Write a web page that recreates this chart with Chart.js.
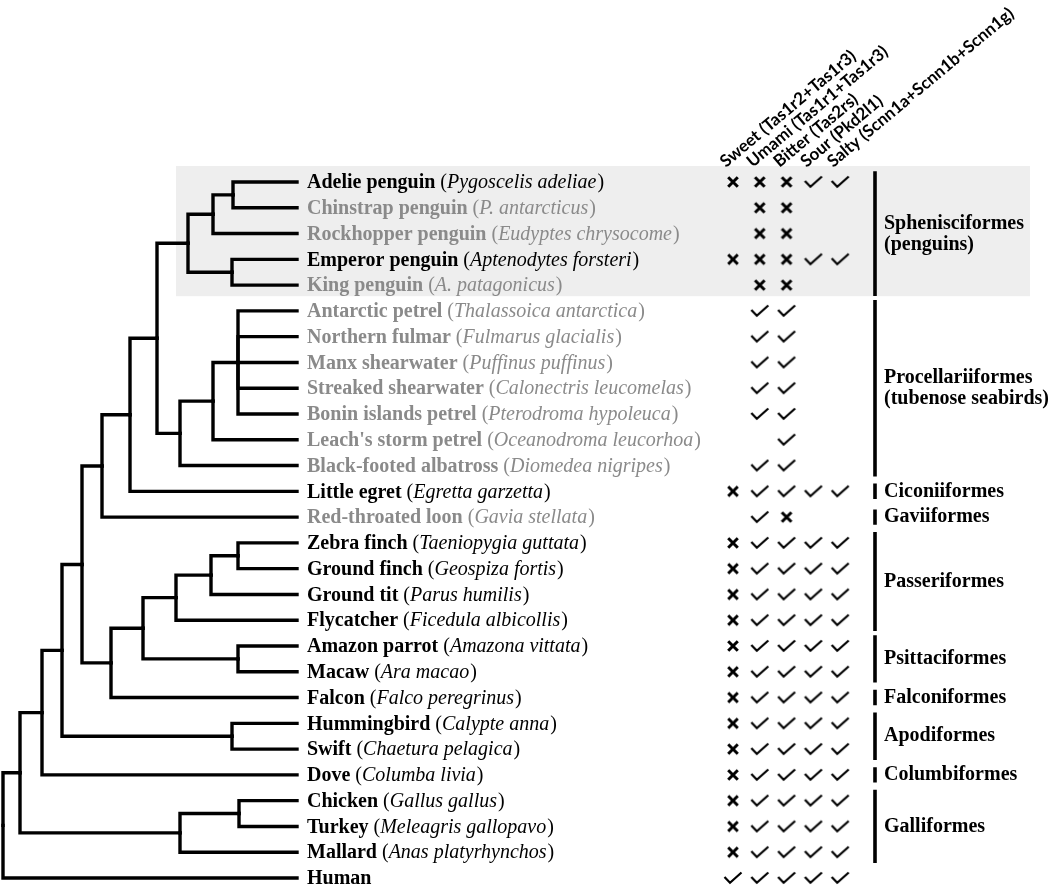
<!DOCTYPE html>
<html>
<head>
<meta charset="utf-8">
<script src="https://cdn.jsdelivr.net/npm/chart.js@4/dist/chart.umd.min.js"></script>
<style>
html,body{margin:0;padding:0;background:#fff;}
#wrap{width:1050px;height:885px;}
</style>
</head>
<body>
<div id="wrap"><canvas id="c" width="1050" height="885"></canvas></div>
<script>
// ---------- DATA ----------
const commonNames = ['Adelie penguin','Chinstrap penguin','Rockhopper penguin','Emperor penguin','King penguin',
  'Antarctic petrel','Northern fulmar','Manx shearwater','Streaked shearwater','Bonin islands petrel',
  "Leach's storm petrel",'Black-footed albatross','Little egret','Red-throated loon','Zebra finch',
  'Ground finch','Ground tit','Flycatcher','Amazon parrot','Macaw','Falcon','Hummingbird','Swift',
  'Dove','Chicken','Turkey','Mallard','Human'];
const sciNames = ['Pygoscelis adeliae','P. antarcticus','Eudyptes chrysocome','Aptenodytes forsteri','A. patagonicus',
  'Thalassoica antarctica','Fulmarus glacialis','Puffinus puffinus','Calonectris leucomelas','Pterodroma hypoleuca',
  'Oceanodroma leucorhoa','Diomedea nigripes','Egretta garzetta','Gavia stellata','Taeniopygia guttata',
  'Geospiza fortis','Parus humilis','Ficedula albicollis','Amazona vittata','Ara macao','Falco peregrinus',
  'Calypte anna','Chaetura pelagica','Columba livia','Gallus gallus','Meleagris gallopavo','Anas platyrhynchos',''];
// 1 = shown in black, 0 = shown in grey
const fullGenome = [1,0,0,1,0, 0,0,0,0,0,0,0, 1,0, 1,1,1,1, 1,1, 1, 1,1, 1, 1,1,1, 1];

const tasteLabels = ['Sweet (Tas1r2+Tas1r3)','Umami (Tas1r1+Tas1r3)','Bitter (Tas2rs)','Sour (Pkd2l1)','Salty (Scnn1a+Scnn1b+Scnn1g)'];
// 'v' = present (check), 'x' = lost (cross), '' = not determined
const sweet  = ['x','','','x','', '','','','','','','', 'x','', 'x','x','x','x','x','x','x','x','x','x','x','x','x','v'];
const umami  = ['x','x','x','x','x', 'v','v','v','v','v','','v', 'v','v', 'v','v','v','v','v','v','v','v','v','v','v','v','v','v'];
const bitter = ['x','x','x','x','x', 'v','v','v','v','v','v','v', 'v','x', 'v','v','v','v','v','v','v','v','v','v','v','v','v','v'];
const sour   = ['v','','','v','', '','','','','','','', 'v','', 'v','v','v','v','v','v','v','v','v','v','v','v','v','v'];
const salty  = ['v','','','v','', '','','','','','','', 'v','', 'v','v','v','v','v','v','v','v','v','v','v','v','v','v'];

// cladogram: internal nodes (ids start after the 28 tips), children and node depth
const nodeChildren = [[0,1],[28,2],[3,4],[29,30],[5,6,7,8,9],[32,10],[33,11],[31,34],[35,12],[36,13],
  [14,15],[38,16],[39,17],[18,19],[40,41],[42,20],[37,43],[21,22],[44,45],[46,23],[24,25],[48,26],[47,49],[50,27]];
const nodeDepth = [233,213,232,188,238,213,180,157,130,102,238,211,176,238,143,111,82,232,62,42,239,180,20,3];
const tipDepth = 297;

const groupNames = ['Sphenisciformes','Procellariiformes','Ciconiiformes','Gaviiformes','Passeriformes','Psittaciformes','Falconiformes','Apodiformes','Columbiformes','Galliformes'];
const groupSub   = ['(penguins)','(tubenose seabirds)','','','','','','','',''];
const groupFirst = [0,5,12,13,14,18,20,21,23,24];
const groupLast  = [4,11,12,13,17,19,20,22,23,26];

// ---------- LAYOUT ----------
const nTips = commonNames.length;
const rowTop = 182, rowBottom = 878;
const rowStep = (rowBottom - rowTop) / (nTips - 1);
const colX0 = 733, colStep = 26.8;
const barX = 875, labelX = 307, groupLabelX = 884;
const GREY = '#8a8a8a';
const serif = '"Liberation Serif","Times New Roman",serif';
const FS = 20;

// node y positions (row units)
const nodeY = [];
for (let i = 0; i < nTips; i++) nodeY[i] = i;
const depthOf = i => i < nTips ? tipDepth : nodeDepth[i - nTips];
nodeChildren.forEach((ch, k) => {
  nodeY[nTips + k] = (nodeY[ch[0]] + nodeY[ch[ch.length - 1]]) / 2;
});

const datasets = [];
nodeChildren.forEach((ch, k) => {
  const id = nTips + k, d = nodeDepth[k];
  ch.forEach(c => {
    datasets.push({
      type: 'scatter', xAxisID: 'x', yAxisID: 'y', showLine: true,
      data: [{x: d, y: nodeY[id]}, {x: d, y: nodeY[c]}, {x: depthOf(c), y: nodeY[c]}],
      borderColor: '#000', borderWidth: 3.4, pointRadius: 0, borderCapStyle: 'square', borderJoinStyle: 'miter', fill: false
    });
  });
});
groupNames.forEach((g, i) => {
  const ext = groupFirst[i] === groupLast[i] ? 0.3 : 0.42;
  datasets.push({
    type: 'scatter', xAxisID: 'x', yAxisID: 'y', showLine: true,
    data: [{x: barX, y: groupFirst[i] - ext}, {x: barX, y: groupLast[i] + ext}],
    borderColor: '#000', borderWidth: 3.6, pointRadius: 0, borderCapStyle: 'butt', fill: false
  });
});

// point-style glyphs
function makeCheck() {
  const c = document.createElement('canvas'); c.width = 20; c.height = 14;
  const g = c.getContext('2d');
  g.strokeStyle = '#000'; g.lineWidth = 2.2; g.lineCap = 'butt'; g.lineJoin = 'miter';
  g.beginPath(); g.moveTo(1.5, 6); g.lineTo(7, 11.8); g.lineTo(18.5, 1.5); g.stroke();
  return c;
}
function makeCross() {
  const c = document.createElement('canvas'); c.width = 14; c.height = 14;
  const g = c.getContext('2d');
  g.strokeStyle = '#000'; g.lineWidth = 3; g.lineCap = 'butt';
  g.beginPath(); g.moveTo(2.2, 2.2); g.lineTo(11.8, 11.8); g.moveTo(11.8, 2.2); g.lineTo(2.2, 11.8); g.stroke();
  return c;
}
const tastes = [sweet, umami, bitter, sour, salty];
const checks = [], crosses = [];
tastes.forEach((arr, col) => arr.forEach((v, row) => {
  if (v === 'v') checks.push({x: col, y: row});
  else if (v === 'x') crosses.push({x: col, y: row});
}));
datasets.push({type: 'scatter', xAxisID: 'xt', yAxisID: 'y', data: checks, pointStyle: makeCheck(), pointRadius: 9, pointHoverRadius: 9});
datasets.push({type: 'scatter', xAxisID: 'xt', yAxisID: 'y', data: crosses, pointStyle: makeCross(), pointRadius: 7, pointHoverRadius: 7});

// ---------- PLUGIN for band, labels ----------
const decor = {
  id: 'decor',
  beforeDatasetsDraw(chart) {
    const ctx = chart.ctx, sx = chart.scales.x, sy = chart.scales.y;
    const top = sy.getPixelForValue(groupFirst[0] - 0.62), bot = sy.getPixelForValue(groupLast[0] + 0.43);
    ctx.save(); ctx.fillStyle = '#eeeeee';
    ctx.fillRect(sx.getPixelForValue(176), top, sx.getPixelForValue(1030) - sx.getPixelForValue(176), bot - top);
    ctx.restore();
  },
  afterDatasetsDraw(chart) {
    const ctx = chart.ctx, sx = chart.scales.x, sy = chart.scales.y, st = chart.scales.xt;
    ctx.save();
    ctx.textBaseline = 'middle'; ctx.textAlign = 'left';
    // species labels
    commonNames.forEach((nm, i) => {
      let x = sx.getPixelForValue(labelX); const y = sy.getPixelForValue(i) + 1;
      ctx.fillStyle = fullGenome[i] ? '#000' : GREY;
      ctx.font = 'bold ' + FS + 'px ' + serif; ctx.fillText(nm, x, y); x += ctx.measureText(nm).width;
      if (sciNames[i]) {
        ctx.font = FS + 'px ' + serif; ctx.fillText(' (', x, y); x += ctx.measureText(' (').width;
        ctx.font = 'italic ' + FS + 'px ' + serif; ctx.fillText(sciNames[i], x, y); x += ctx.measureText(sciNames[i]).width + 1;
        ctx.font = FS + 'px ' + serif; ctx.fillText(')', x, y);
      }
    });
    // group labels
    ctx.fillStyle = '#000'; ctx.font = 'bold ' + FS + 'px ' + serif;
    groupNames.forEach((g, i) => {
      const yc = sy.getPixelForValue((groupFirst[i] + groupLast[i]) / 2);
      const gx = sx.getPixelForValue(groupLabelX);
      if (groupSub[i]) { ctx.fillText(g, gx, yc - 10); ctx.fillText(groupSub[i], gx, yc + 11); }
      else ctx.fillText(g, gx, yc);
    });
    // rotated taste headers
    ctx.font = 'bold 17px Lato, "Open Sans", sans-serif'; ctx.textBaseline = 'alphabetic';
    tasteLabels.forEach((t, i) => {
      ctx.save();
      ctx.translate(st.getPixelForValue(i) - 7, 168);
      ctx.rotate(-40 * Math.PI / 180);
      ctx.fillText(t, 0, 0);
      ctx.restore();
    });
    ctx.restore();
  }
};

new Chart(document.getElementById('c'), {
  type: 'scatter',
  data: {datasets},
  options: {
    responsive: false, animation: false, events: [],
    layout: {padding: 0, autoPadding: false},
    plugins: {legend: {display: false}, tooltip: {enabled: false}},
    scales: {
      x: {type: 'linear', min: 0, max: 1050, display: false},
      xt: {type: 'linear', min: -colX0 / colStep, max: (1050 - colX0) / colStep, display: false},
      y: {type: 'linear', min: -rowTop / rowStep, max: (885 - rowTop) / rowStep, reverse: true, display: false}
    }
  },
  plugins: [decor]
});
</script>
</body>
</html>
